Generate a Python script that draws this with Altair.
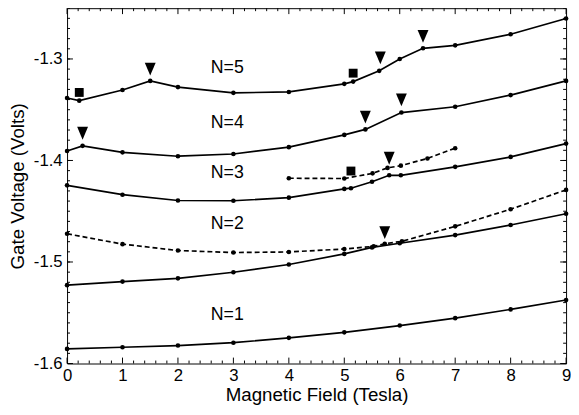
import altair as alt
import numpy as np
import pandas as pd

# ---------------- data ----------------
n5_b = [0, 0.22, 1, 1.5, 2, 3, 4, 5, 5.16, 5.63, 6, 6.42, 7, 8, 9]
n5_v = [-1.3385, -1.3411, -1.3306, -1.3216, -1.3277, -1.3334, -1.3325, -1.3245,
        -1.3223, -1.3117, -1.3000, -1.2895, -1.2866, -1.2757, -1.2602]

n4_b = [0, 0.28, 1, 2, 3, 4, 5, 5.38, 6.03, 7, 8, 9]
n4_v = [-1.3907, -1.3856, -1.3920, -1.3958, -1.3936, -1.3869, -1.3748, -1.3694,
        -1.3528, -1.3471, -1.3356, -1.3216]

n3_b = [0, 1, 2, 3, 4, 5, 5.12, 5.5, 5.81, 6.02, 7, 8, 9]
n3_v = [-1.4245, -1.4337, -1.4394, -1.4397, -1.4366, -1.4280, -1.4273, -1.4209,
        -1.4146, -1.4146, -1.4063, -1.3965, -1.3834]

n3d_b = [4, 5, 5.51, 5.78, 6.02, 6.5, 7]
n3d_v = [-1.4175, -1.4178, -1.4127, -1.4073, -1.4051, -1.3980, -1.3879]

n2_b = [0, 1, 2, 3, 4, 5, 5.5, 6, 7, 8, 9]
n2_v = [-1.5228, -1.5193, -1.5161, -1.5101, -1.5025, -1.4920, -1.4856, -1.4815,
        -1.4735, -1.4636, -1.4525]

n2d_b = [0, 1, 2, 3, 4, 5, 5.53, 5.73, 6.04, 7, 8, 9]
n2d_v = [-1.4722, -1.4824, -1.4887, -1.4907, -1.4901, -1.4872, -1.4846, -1.4820,
         -1.4796, -1.4649, -1.4480, -1.4290]

n1_b = [0, 1, 2, 3, 4, 5, 6, 7, 8, 9]
n1_v = [-1.5856, -1.5840, -1.5823, -1.5795, -1.5747, -1.5693, -1.5626, -1.5553,
        -1.5467, -1.5374]

tri_b = [1.5, 5.65, 6.42, 0.28, 5.38, 6.03, 5.81, 5.73]
tri_v = [-1.3101, -1.2990, -1.2777, -1.3732, -1.3573, -1.3404, -1.3978, -1.4710]

sq_b = [0.22, 5.16, 5.12]
sq_v = [-1.3330, -1.3140, -1.4104]

lab_text = ["N=5", "N=4", "N=3", "N=2", "N=1"]
lab_b = [2.89, 2.89, 2.89, 2.89, 2.89]
lab_v = [-1.3085, -1.3627, -1.4120, -1.4630, -1.5527]

x_ticks = [0, 1, 2, 3, 4, 5, 6, 7, 8, 9]
y_ticks = [-1.6, -1.5, -1.4, -1.3]
x_domain = [0, 9]
y_domain = [-1.6, -1.25]

# ---------------- tables ----------------
def series(name, b, v):
    return pd.DataFrame({"B": b, "V": v, "s": name})

solid = pd.concat([series("N5", n5_b, n5_v), series("N4", n4_b, n4_v),
                   series("N3", n3_b, n3_v), series("N2", n2_b, n2_v),
                   series("N1", n1_b, n1_v)], ignore_index=True)
dashed = pd.concat([series("N3d", n3d_b, n3d_v), series("N2d", n2d_b, n2d_v)],
                   ignore_index=True)
tri = pd.DataFrame({"B": tri_b, "V": tri_v})
sq = pd.DataFrame({"B": sq_b, "V": sq_v})
labs = pd.DataFrame({"B": lab_b, "V": lab_v, "t": lab_text})

xmaj = pd.DataFrame({"B": x_ticks})
xmin = pd.DataFrame({"B": [round(v, 2) for v in np.arange(0, 9.001, 0.2)
                           if abs(v - round(v)) > 1e-6]})
ymaj = pd.DataFrame({"V": [round(v, 2) for v in np.arange(-1.6, -1.249, 0.05)
                           if abs(v * 10 - round(v * 10)) < 1e-6]})
ymin = pd.DataFrame({"V": [round(v, 3) for v in np.arange(-1.6, -1.2499, 0.01)]})

W, H = 507, 361
FONT = "Liberation Sans"

X = alt.X("B:Q", scale=alt.Scale(domain=x_domain, nice=False, zero=False),
          axis=alt.Axis(values=x_ticks, title="Magnetic Field (Tesla)",
                        labelFlush=False, format="d"))
Y = alt.Y("V:Q", scale=alt.Scale(domain=y_domain, nice=False, zero=False),
          axis=alt.Axis(values=y_ticks, title="Gate Voltage (Volts)", format=".1f",
                        labelExpr="replace(datum.label, '\u2212', '-')"))

lines = alt.Chart(solid).mark_line(color="black", strokeWidth=1.7).encode(
    x=X, y=Y, detail="s:N")
lines_pts = alt.Chart(solid).mark_circle(color="black", size=22, opacity=1).encode(
    x=X, y=Y)
dlines = alt.Chart(dashed).mark_line(color="black", strokeWidth=1.7,
                                     strokeDash=[5, 3]).encode(x=X, y=Y, detail="s:N")
dpts = alt.Chart(dashed).mark_circle(color="black", size=22, opacity=1).encode(
    x=X, y=Y)
tris = alt.Chart(tri).mark_point(shape="M-0.85,-1L0.85,-1L0,1Z", filled=True,
                                 color="black", size=169, opacity=1).encode(x=X, y=Y)
sqs = alt.Chart(sq).mark_point(shape="square", filled=True, color="black",
                               size=81, opacity=1).encode(x=X, y=Y)
texts = alt.Chart(labs).mark_text(font=FONT, fontSize=18, color="black",
                                  align="center", baseline="middle").encode(
    x=X, y=Y, text="t:N")

def xt(df, y0, y1):
    return alt.Chart(df).mark_rule(color="black", strokeWidth=1).encode(
        x=X, y=alt.value(y0), y2=alt.value(y1))

def yt(df, x0, x1):
    return alt.Chart(df).mark_rule(color="black", strokeWidth=1).encode(
        y=Y, x=alt.value(x0), x2=alt.value(x1))

ticks = [xt(xmaj, H, H - 6), xt(xmin, H, H - 3), xt(xmaj, 0, 6), xt(xmin, 0, 3),
         yt(ymaj, 0, 6), yt(ymin, 0, 3), yt(ymaj, W, W - 6), yt(ymin, W, W - 3)]

chart = alt.layer(*ticks, dlines, dpts, lines, lines_pts, tris, sqs, texts).properties(
    width=W, height=H,
    padding={"top": -4, "left": 0, "right": 0, "bottom": 0}
).configure_view(stroke="black", strokeWidth=1).configure_axis(
    ticks=False, domain=False, grid=False,
    labelFont=FONT, titleFont=FONT, labelFontSize=17, titleFontSize=19,
    titleFontWeight="normal", labelColor="black", titleColor="black",
).configure_axisX(labelPadding=4, titlePadding=3).configure_axisY(
    labelPadding=5, titlePadding=6)

chart.save("out.html", embed_options={"renderer": "svg", "actions": False})
